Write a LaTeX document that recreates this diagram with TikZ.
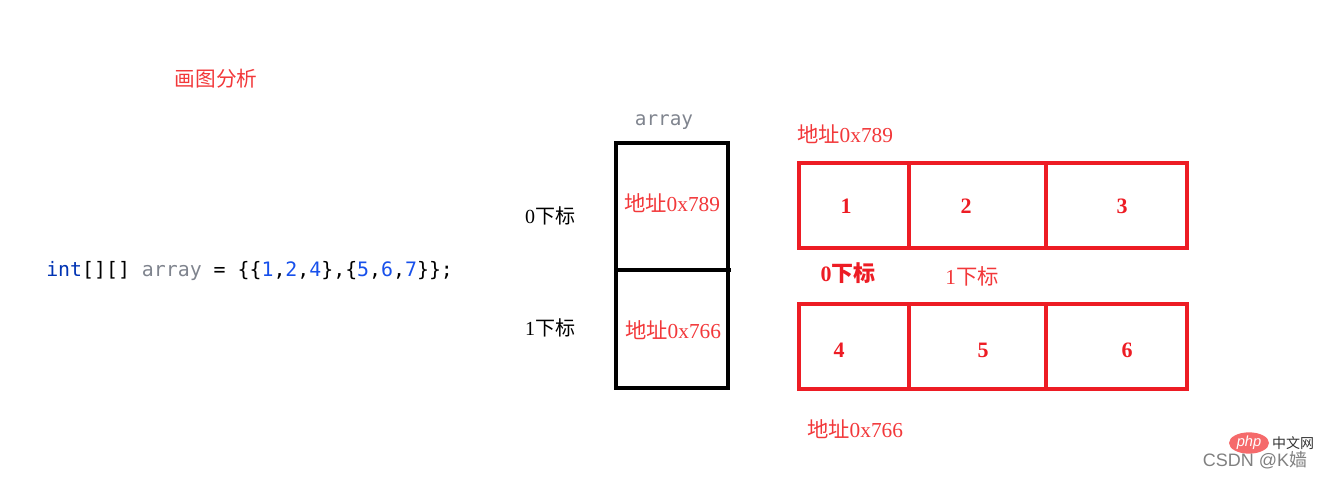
\documentclass[tikz,border=0pt]{standalone}
\usepackage{fontspec}
\usetikzlibrary{shapes.geometric}
\setmainfont{Liberation Serif}
\newfontfamily\cjk{Noto Sans CJK SC}
\newfontfamily\codefont{DejaVu Sans Mono}
\newfontfamily\wmfont{Liberation Sans}
\definecolor{boxred}{HTML}{ED1C24}
\definecolor{txtred}{HTML}{F2383A}
\definecolor{kwblue}{HTML}{0033B3}
\definecolor{numblue}{HTML}{1750EB}
\definecolor{vargrey}{HTML}{7F848E}
\tikzset{
  blackbox/.style={draw=black,line width=2.4pt},
  redbox/.style={draw=boxred,line width=2.3pt},
  zhlabel/.style={font=\fontsize{15}{18}\selectfont},
  addr/.style={text=txtred,font=\fontsize{16}{19}\selectfont},
  cellnum/.style={text=boxred,font=\bfseries\fontsize{16.5}{19}\selectfont},
}
\begin{document}
\begin{tikzpicture}[x=0.75pt,y=-0.75pt]
\useasboundingbox (0,0) rectangle (1325,478);
% title
\node[text=txtred,font=\cjk\fontsize{15.5}{18}\selectfont] (title) at (216,79) {画图分析};
% code
\node[anchor=west,inner sep=0pt,font=\codefont\fontsize{14.9}{18}\selectfont] (code) at (46,271)
  {\textcolor{kwblue}{int}[][] \textcolor{vargrey}{array} = \{\{\textcolor{numblue}{1},\textcolor{numblue}{2},\textcolor{numblue}{4}\},\{\textcolor{numblue}{5},\textcolor{numblue}{6},\textcolor{numblue}{7}\}\};};
% array box
\node[text=vargrey,font=\codefont\fontsize{14.5}{17}\selectfont] (arrlabel) at (664,122) {array};
\draw[blackbox] (616,143) rectangle (728,388);
\coordinate (midl) at (616,270);
\coordinate (midr) at (731,270);
\draw[blackbox] (midl) -- (midr);
\node[addr] (a0) at (672,203) {{\cjk 地址}0x789};
\node[addr] (a1) at (673,330) {{\cjk 地址}0x766};
\node[zhlabel] (i0) at (550,216) {0{\cjk 下标}};
\node[zhlabel] (i1) at (550,328) {1{\cjk 下标}};
% red rows
\draw[redbox] (799,163) rectangle (1187,248);
\draw[redbox] (909,163) -- (909,249);
\draw[redbox] (1046,163) -- (1046,248);
\draw[redbox] (799,304) rectangle (1187,389);
\draw[redbox] (909,304) -- (909,390);
\draw[redbox] (1046,304) -- (1046,389);
\node[cellnum] (c1) at (846,206) {1};
\node[cellnum] (c2) at (966,206) {2};
\node[cellnum] (c3) at (1122,206) {3};
\node[cellnum] (c4) at (839,350) {4};
\node[cellnum] (c5) at (983,350) {5};
\node[cellnum] (c6) at (1127,350) {6};
\node[text=boxred,font=\bfseries\fontsize{16.5}{19}\selectfont] (r0) at (848,273) {0{\cjk\bfseries 下标}};
\node[text=txtred,font=\fontsize{16}{19}\selectfont] (r1) at (972,276) {1{\cjk 下标}};
\node[addr] (t0) at (845,134) {{\cjk 地址}0x789};
\node[addr] (t1) at (855,429) {{\cjk 地址}0x766};
% watermark
\node[ellipse,fill=txtred!75,minimum width=30pt,minimum height=16pt,inner sep=0pt,text=white,font=\wmfont\itshape\fontsize{11}{12}\selectfont] (php) at (1249,443) {php};
\node[text=black!80,font=\cjk\fontsize{10.5}{12}\selectfont] (zw) at (1293,443) {中文网};
\node[text=black!50,font=\wmfont\fontsize{13.5}{15}\selectfont] (csdn) at (1255,460) {CSDN @K{\cjk 嫱}};
\end{tikzpicture}
\end{document}
